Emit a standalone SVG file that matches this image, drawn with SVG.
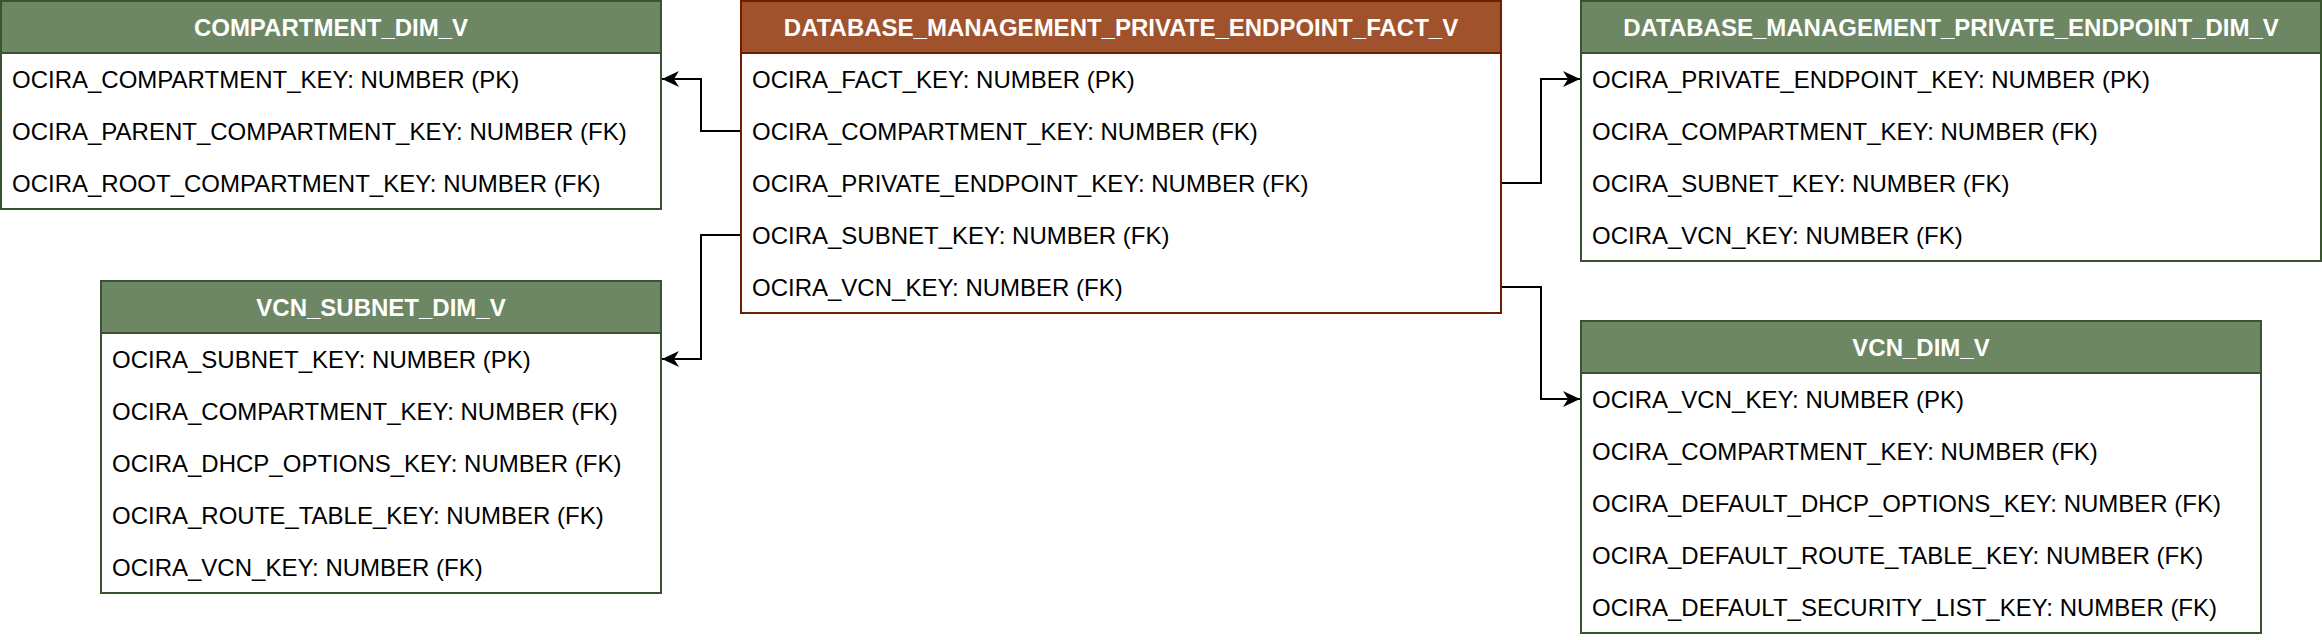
<svg xmlns="http://www.w3.org/2000/svg" width="2322" height="640" viewBox="0 0 2322 640">
<style>
.body{fill:#ffffff;stroke-width:2}
.g .body,.g .hd{stroke:#3A5431}
.g .hd{fill:#6D8764;stroke-width:2}
.f .body,.f .hd{stroke:#6D1F00}
.f .hd{fill:#A0522D;stroke-width:2}
.title{font-family:"Liberation Sans",Arial,Helvetica,sans-serif;font-size:24px;font-weight:bold;fill:#ffffff;text-anchor:middle}
.row{font-family:"Liberation Sans",Arial,Helvetica,sans-serif;font-size:24px;fill:#000000}
.conn{fill:none;stroke:#000000;stroke-width:2;marker-end:url(#arrow)}
</style>
<defs>
<marker id="arrow" markerUnits="userSpaceOnUse" viewBox="0 0 17 17" refX="17" refY="8.5" markerWidth="17" markerHeight="17" orient="auto">
<path d="M17,8.5 L0,0.5 L5,8.5 L0,16.5 Z" fill="#000000"/>
</marker>
</defs>
<rect width="2322" height="640" fill="#ffffff"/>

<g id="connectors">
<path class="conn" d="M741,131 H701 V79 H662"/>
<path class="conn" d="M741,235 H701 V359 H662"/>
<path class="conn" d="M1501,183 H1541 V79 H1580"/>
<path class="conn" d="M1501,287 H1541 V399 H1580"/>
</g>

<g id="compartment_dim_v" class="g">
<rect class="body" x="1" y="1" width="660" height="208"/>
<rect class="hd" x="1" y="1" width="660" height="52"/>
<text class="title" x="331" y="35.5">COMPARTMENT_DIM_V</text>
<text class="row" x="12" y="87.5">OCIRA_COMPARTMENT_KEY: NUMBER (PK)</text>
<text class="row" x="12" y="139.5">OCIRA_PARENT_COMPARTMENT_KEY: NUMBER (FK)</text>
<text class="row" x="12" y="191.5">OCIRA_ROOT_COMPARTMENT_KEY: NUMBER (FK)</text>
</g>

<g id="vcn_subnet_dim_v" class="g">
<rect class="body" x="101" y="281" width="560" height="312"/>
<rect class="hd" x="101" y="281" width="560" height="52"/>
<text class="title" x="381" y="315.5">VCN_SUBNET_DIM_V</text>
<text class="row" x="112" y="367.5">OCIRA_SUBNET_KEY: NUMBER (PK)</text>
<text class="row" x="112" y="419.5">OCIRA_COMPARTMENT_KEY: NUMBER (FK)</text>
<text class="row" x="112" y="471.5">OCIRA_DHCP_OPTIONS_KEY: NUMBER (FK)</text>
<text class="row" x="112" y="523.5">OCIRA_ROUTE_TABLE_KEY: NUMBER (FK)</text>
<text class="row" x="112" y="575.5">OCIRA_VCN_KEY: NUMBER (FK)</text>
</g>

<g id="database_management_private_endpoint_fact_v" class="f">
<rect class="body" x="741" y="1" width="760" height="312"/>
<rect class="hd" x="741" y="1" width="760" height="52"/>
<text class="title" x="1121" y="35.5">DATABASE_MANAGEMENT_PRIVATE_ENDPOINT_FACT_V</text>
<text class="row" x="752" y="87.5">OCIRA_FACT_KEY: NUMBER (PK)</text>
<text class="row" x="752" y="139.5">OCIRA_COMPARTMENT_KEY: NUMBER (FK)</text>
<text class="row" x="752" y="191.5">OCIRA_PRIVATE_ENDPOINT_KEY: NUMBER (FK)</text>
<text class="row" x="752" y="243.5">OCIRA_SUBNET_KEY: NUMBER (FK)</text>
<text class="row" x="752" y="295.5">OCIRA_VCN_KEY: NUMBER (FK)</text>
</g>

<g id="database_management_private_endpoint_dim_v" class="g">
<rect class="body" x="1581" y="1" width="740" height="260"/>
<rect class="hd" x="1581" y="1" width="740" height="52"/>
<text class="title" x="1951" y="35.5">DATABASE_MANAGEMENT_PRIVATE_ENDPOINT_DIM_V</text>
<text class="row" x="1592" y="87.5">OCIRA_PRIVATE_ENDPOINT_KEY: NUMBER (PK)</text>
<text class="row" x="1592" y="139.5">OCIRA_COMPARTMENT_KEY: NUMBER (FK)</text>
<text class="row" x="1592" y="191.5">OCIRA_SUBNET_KEY: NUMBER (FK)</text>
<text class="row" x="1592" y="243.5">OCIRA_VCN_KEY: NUMBER (FK)</text>
</g>

<g id="vcn_dim_v" class="g">
<rect class="body" x="1581" y="321" width="680" height="312"/>
<rect class="hd" x="1581" y="321" width="680" height="52"/>
<text class="title" x="1921" y="355.5">VCN_DIM_V</text>
<text class="row" x="1592" y="407.5">OCIRA_VCN_KEY: NUMBER (PK)</text>
<text class="row" x="1592" y="459.5">OCIRA_COMPARTMENT_KEY: NUMBER (FK)</text>
<text class="row" x="1592" y="511.5">OCIRA_DEFAULT_DHCP_OPTIONS_KEY: NUMBER (FK)</text>
<text class="row" x="1592" y="563.5">OCIRA_DEFAULT_ROUTE_TABLE_KEY: NUMBER (FK)</text>
<text class="row" x="1592" y="615.5">OCIRA_DEFAULT_SECURITY_LIST_KEY: NUMBER (FK)</text>
</g>
</svg>
